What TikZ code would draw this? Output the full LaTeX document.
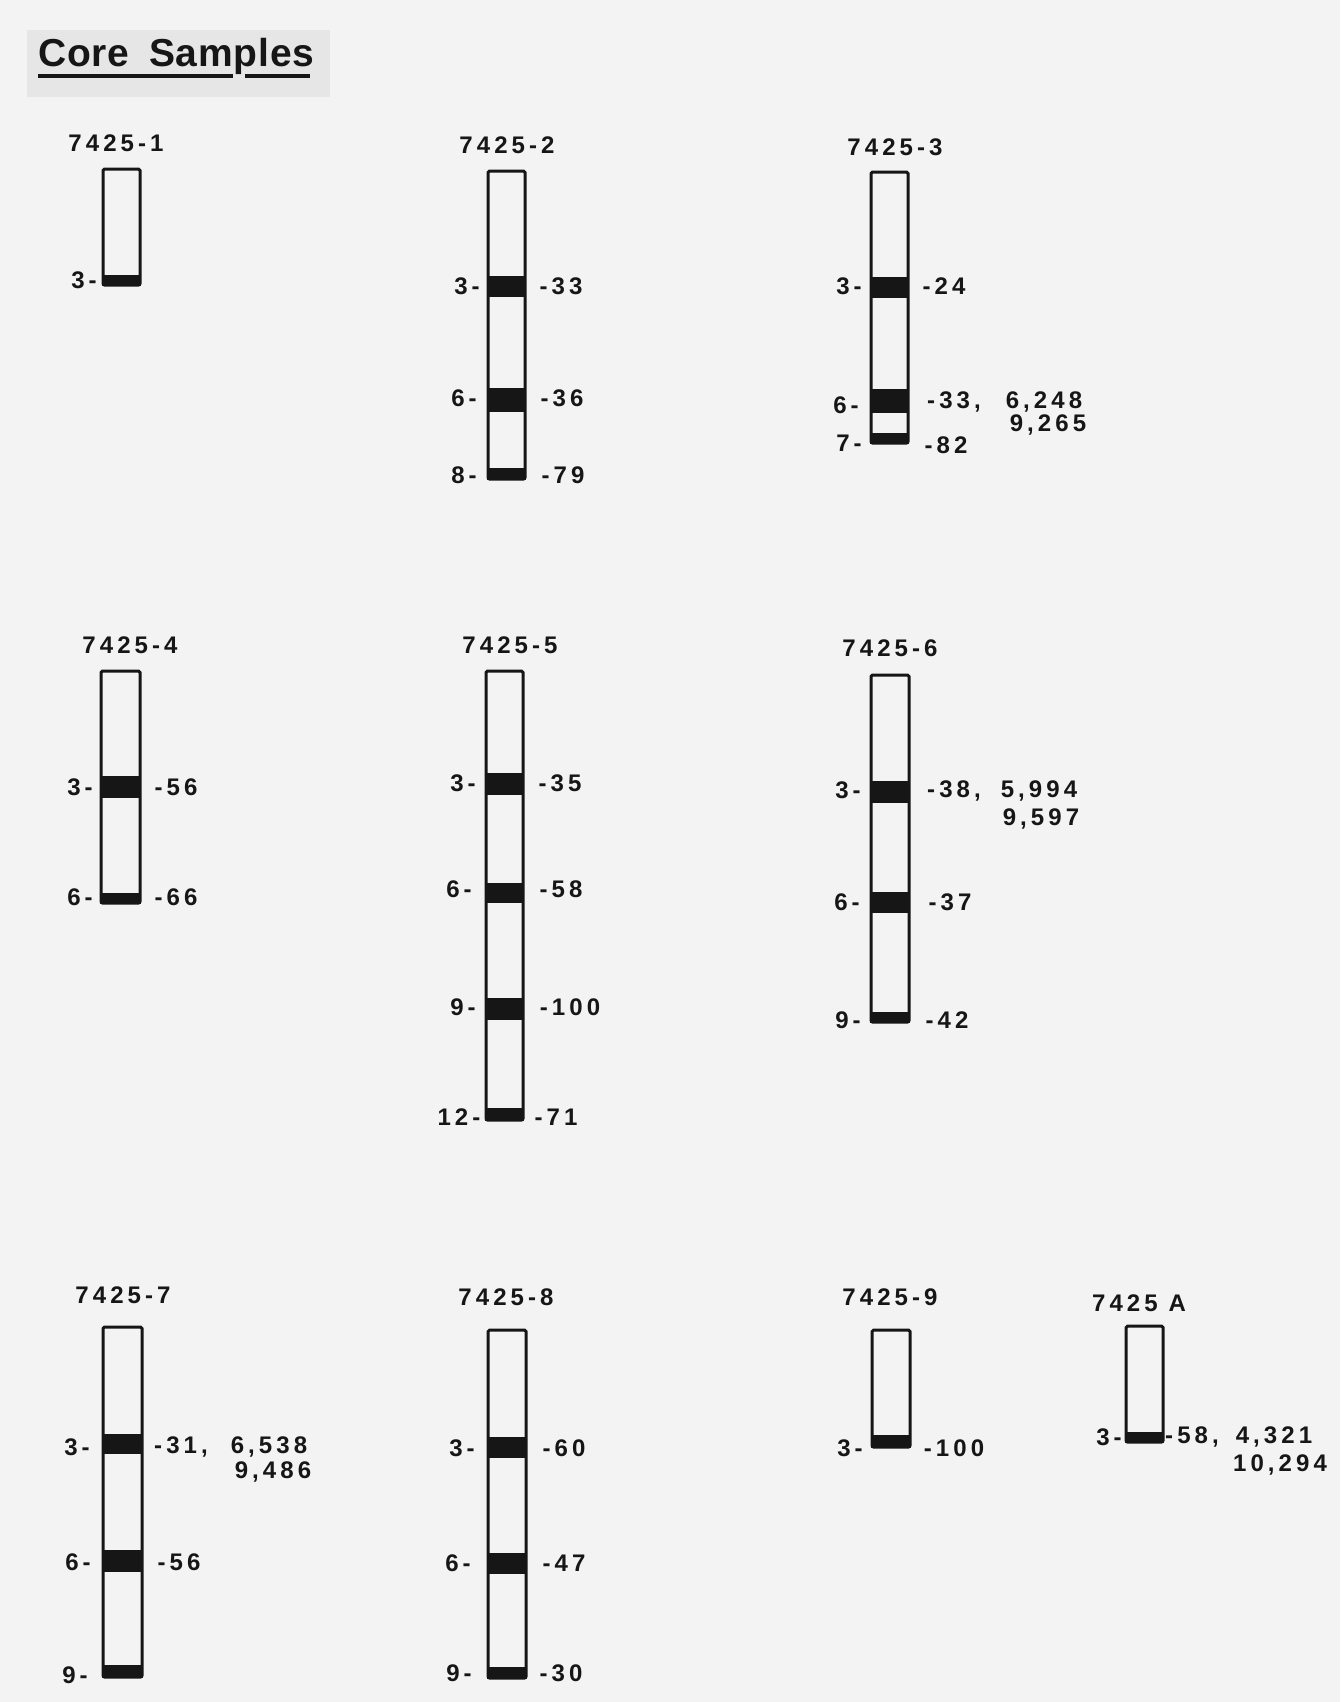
\documentclass[tikz,border=0pt]{standalone}
\usepackage{fontspec}
\setmainfont{Liberation Sans}
\newfontfamily\lblfont{Liberation Sans Bold}[LetterSpace=17]
\newfontfamily\ttlfont{Liberation Sans Bold}[LetterSpace=2]
\definecolor{paper}{RGB}{243,243,243}
\definecolor{ttlbg}{RGB}{230,230,230}
\definecolor{ink}{RGB}{22,22,22}
\tikzset{
  corebox/.style={draw=ink, line width=1.5pt, rounded corners=0.8pt},
  bandfill/.style={fill=ink},
  lbl/.style={font=\lblfont\fontsize{12}{14}\selectfont, text=ink, inner sep=0pt},
  ttl/.style={font=\ttlfont\fontsize{19.5}{24}\selectfont, text=ink, inner sep=0pt}
}
\begin{document}
\begin{tikzpicture}[x=0.5pt,y=-0.5pt]
\useasboundingbox (0,0) rectangle (1340,1702);
\fill[paper] (0,0) rectangle (1340,1702);
% title
\fill[ttlbg] (27,30) rectangle (330,97);
\node[ttl, anchor=base west] (title) at (38,67) {Core\hspace{0.5em}Samples};
\draw[ink, line width=1.7pt] (38,76) -- (233,76);
\draw[ink, line width=1.7pt] (245,76) -- (310,76);

% ---------- 7425-1
\node[lbl] (n1) at (116,143) {7425-1};
\draw[corebox] (103,169) rectangle (140,285);
\fill[bandfill] (102,275) rectangle (141,286);
\node[lbl] (n1l3) at (84,280) {3-};

% ---------- 7425-2
\node[lbl] (n2) at (507,145) {7425-2};
\draw[corebox] (488,171) rectangle (525,479);
\fill[bandfill] (487,276) rectangle (526,297);
\fill[bandfill] (487,388) rectangle (526,412);
\fill[bandfill] (487,468) rectangle (526,480);
\node[lbl] (n2l3) at (467,286) {3-};
\node[lbl] (n2l6) at (464,398) {6-};
\node[lbl] (n2l8) at (464,475) {8-};
\node[lbl] (n2r3) at (561,286) {-33};
\node[lbl] (n2r6) at (562,398) {-36};
\node[lbl] (n2r8) at (563,475) {-79};

% ---------- 7425-3
\node[lbl] (n3) at (895,147) {7425-3};
\draw[corebox] (871,172) rectangle (908,443);
\fill[bandfill] (870,277) rectangle (909,298);
\fill[bandfill] (870,389) rectangle (909,413);
\fill[bandfill] (870,433) rectangle (909,444);
\node[lbl] (n3l3) at (849,286) {3-};
\node[lbl] (n3l6) at (846,405) {6-};
\node[lbl] (n3l7) at (849,443) {7-};
\node[lbl] (n3r3) at (944,286) {-24};
\node[lbl] (n3r6) at (954,402) {-33,};
\node[lbl] (n3r6b) at (1044,402) {6,248};
\node[lbl] (n3r6c) at (1048,425) {9,265};
\node[lbl] (n3r7) at (946,445) {-82};

% ---------- 7425-4
\node[lbl] (n4) at (130,645) {7425-4};
\draw[corebox] (101,671) rectangle (140,903);
\fill[bandfill] (100,776) rectangle (141,798);
\fill[bandfill] (100,893) rectangle (141,904);
\node[lbl] (n4l3) at (80,787) {3-};
\node[lbl] (n4l6) at (80,897) {6-};
\node[lbl] (n4r3) at (176,787) {-56};
\node[lbl] (n4r6) at (176,897) {-66};

% ---------- 7425-5
\node[lbl] (n5) at (510,645) {7425-5};
\draw[corebox] (486,671) rectangle (523,1120);
\fill[bandfill] (485,773) rectangle (524,795);
\fill[bandfill] (485,883) rectangle (524,903);
\fill[bandfill] (485,998) rectangle (524,1020);
\fill[bandfill] (485,1108) rectangle (524,1121);
\node[lbl] (n5l3) at (463,783) {3-};
\node[lbl] (n5l6) at (459,889) {6\,-};
\node[lbl] (n5l9) at (463,1007) {9-};
\node[lbl] (n5l12) at (459,1117) {12-};
\node[lbl] (n5r3) at (560,783) {-35};
\node[lbl] (n5r6) at (561,889) {-58};
\node[lbl] (n5r9) at (570,1007) {-100};
\node[lbl] (n5r12) at (556,1117) {-71};

% ---------- 7425-6
\node[lbl] (n6) at (890,648) {7425-6};
\draw[corebox] (871,675) rectangle (909,1022);
\fill[bandfill] (870,781) rectangle (910,803);
\fill[bandfill] (870,892) rectangle (910,913);
\fill[bandfill] (870,1012) rectangle (910,1023);
\node[lbl] (n6l3) at (848,790) {3-};
\node[lbl] (n6l6) at (847,902) {6-};
\node[lbl] (n6l9) at (848,1020) {9-};
\node[lbl] (n6r3) at (954,791) {-38,};
\node[lbl] (n6r3b) at (1039,791) {5,994};
\node[lbl] (n6r3c) at (1041,819) {9,597};
\node[lbl] (n6r6) at (950,902) {-37};
\node[lbl] (n6r9) at (947,1020) {-42};

% ---------- 7425-7
\node[lbl] (n7) at (123,1295) {7425-7};
\draw[corebox] (103,1327) rectangle (142,1677);
\fill[bandfill] (102,1434) rectangle (143,1454);
\fill[bandfill] (102,1550) rectangle (143,1572);
\fill[bandfill] (102,1665) rectangle (143,1678);
\node[lbl] (n7l3) at (77,1447) {3-};
\node[lbl] (n7l6) at (78,1562) {6-};
\node[lbl] (n7l9) at (75,1675) {9-};
\node[lbl] (n7r3) at (181,1447) {-31,};
\node[lbl] (n7r3b) at (269,1447) {6,538};
\node[lbl] (n7r3c) at (273,1472) {9,486};
\node[lbl] (n7r6) at (179,1562) {-56};

% ---------- 7425-8
\node[lbl] (n8) at (506,1297) {7425-8};
\draw[corebox] (488,1330) rectangle (526,1678);
\fill[bandfill] (487,1437) rectangle (527,1458);
\fill[bandfill] (487,1553) rectangle (527,1574);
\fill[bandfill] (487,1667) rectangle (527,1679);
\node[lbl] (n8l3) at (462,1448) {3-};
\node[lbl] (n8l6) at (458,1563) {6\,-};
\node[lbl] (n8l9) at (459,1673) {9\,-};
\node[lbl] (n8r3) at (564,1448) {-60};
\node[lbl] (n8r6) at (564,1563) {-47};
\node[lbl] (n8r9) at (561,1673) {-30};

% ---------- 7425-9
\node[lbl] (n9) at (890,1297) {7425-9};
\draw[corebox] (872,1330) rectangle (910,1447);
\fill[bandfill] (871,1435) rectangle (911,1448);
\node[lbl] (n9l3) at (850,1448) {3\,-};
\node[lbl] (n9r3) at (954,1448) {-100};

% ---------- 7425 A
\node[lbl] (nA) at (1139,1303) {7425\hspace{0.45em}A};
\draw[corebox] (1126,1326) rectangle (1163,1442);
\fill[bandfill] (1125,1432) rectangle (1164,1443);
\node[lbl] (nAl3) at (1109,1437) {3-};
\node[lbl] (nAr3) at (1192,1437) {-58,};
\node[lbl] (nAr3b) at (1274,1437) {4,321};
\node[lbl] (nAr3c) at (1280,1465) {10,294};
\end{tikzpicture}
\end{document}
